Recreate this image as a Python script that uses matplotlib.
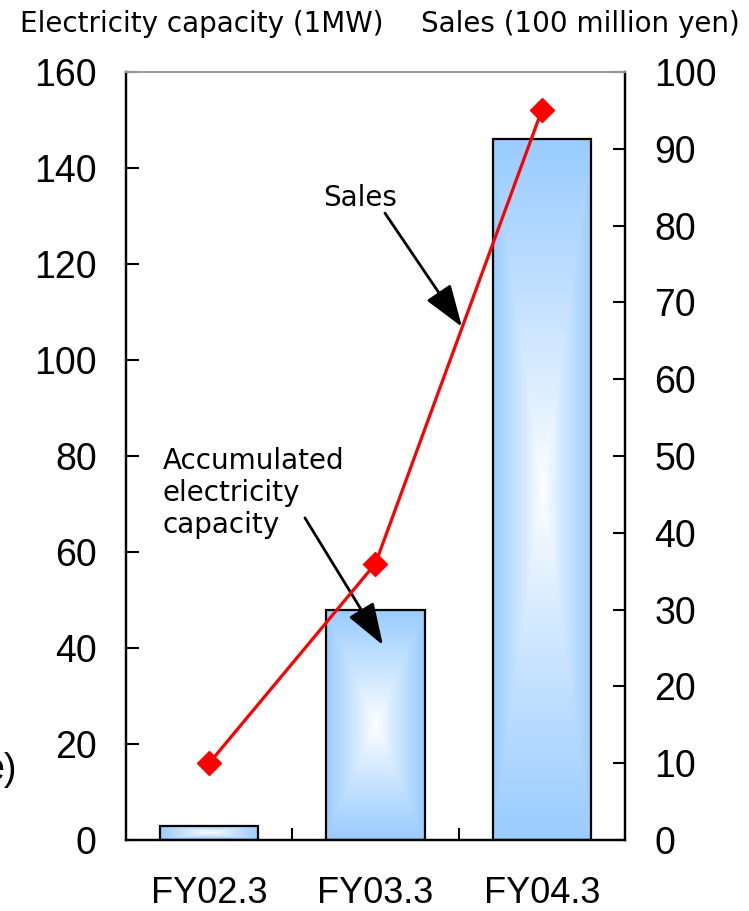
import numpy as np
import matplotlib.pyplot as plt
from matplotlib.patches import Rectangle

# capacity bars (left axis, MW) and sales line (right axis, 100 million yen)
years = ["FY02.3", "FY03.3", "FY04.3"]
capacity = [3, 48, 146]
sales = [10, 36, 95]

plt.rcParams['font.family'] = ['Liberation Sans', 'DejaVu Sans']
label_font = ['DejaVu Sans']

fig = plt.figure(figsize=(7.49, 9.11), dpi=100)
ax = fig.add_axes([0.1682, 0.0779, 0.6662, 0.8431])
ax2 = ax.twinx()

x = np.arange(len(years))
bar_w = 0.59
edge_blue = np.array([153, 204, 255]) / 255.0


def box_gradient(n=200):
    # white in the middle, fading out to light blue at all four edges
    u = np.linspace(-1, 1, n)
    uu, vv = np.meshgrid(u, u)
    t = np.maximum(np.abs(uu), np.abs(vv)) ** 0.9
    img = np.ones((n, n, 3)) * (1 - t[..., None]) + edge_blue * t[..., None]
    return img


grad = box_gradient()
for xi, h in zip(x, capacity):
    x0 = xi - bar_w / 2
    rect = Rectangle((x0, 0), bar_w, h, facecolor='none',
                     edgecolor='black', linewidth=1.6, zorder=3)
    ax.add_patch(rect)
    im = ax.imshow(grad, extent=(x0, x0 + bar_w, 0, h), aspect='auto',
                   interpolation='bilinear', zorder=2)
    im.set_clip_path(rect)

ax.set_xlim(-0.5, 2.5)
ax.set_ylim(0, 160)
ax2.set_ylim(0, 100)

ax2.plot(x, sales, color='#ff0000', lw=2.3, marker='D', ms=12,
         markeredgecolor='#ff0000', zorder=5)

# axes styling
ax.set_yticks(np.arange(0, 161, 20))
ax2.set_yticks(np.arange(0, 101, 10))
ax.set_xticks(x)
ax.set_xticklabels(years)
ax.set_xticks([0.5, 1.5], minor=True)
ax.tick_params(axis='x', which='major', length=0, pad=26, labelsize=26)
ax.tick_params(axis='x', which='minor', direction='in', length=9, width=1.5)
ax.tick_params(axis='y', direction='in', length=9, width=1.5, pad=21,
               labelsize=27)
ax2.tick_params(axis='y', direction='in', length=9, width=1.5, pad=21,
                labelsize=27)
for a in (ax, ax2):
    for s in ('left', 'right', 'bottom'):
        a.spines[s].set_linewidth(1.6)
    a.spines['top'].set_color('#999999')
    a.spines['top'].set_linewidth(1.4)

# axis titles above the plot
fig.text(20 / 749, 1 - 24 / 911, "Electricity capacity (1MW)", fontsize=20,
         family=label_font, ha='left', va='center')
fig.text(740 / 749, 1 - 24 / 911, "Sales (100 million yen)", fontsize=20,
         family=label_font, ha='right', va='center')
fig.text(17 / 749, 1 - 770 / 911, "e)", fontsize=27, ha='right', va='center')

arrow = dict(arrowstyle='-|>,head_length=1.3,head_width=0.45',
             color='black', lw=2, shrinkA=0, shrinkB=0, mutation_scale=20)
ax.annotate("Sales", xy=(1.52, 106.9), xytext=(0.907, 133.8),
            fontsize=20, family=label_font, ha='center', va='center',
            zorder=6)
ax.annotate("", xy=(1.52, 106.9), xytext=(1.057, 130.6),
            arrowprops=arrow, zorder=6)
ax.annotate("Accumulated\nelectricity\ncapacity", xy=(1.045, 40.6),
            xytext=(-0.278, 72.3), fontsize=20, family=label_font,
            ha='left', va='center', linespacing=1.2, zorder=6)
ax.annotate("", xy=(1.045, 40.6), xytext=(0.576, 67.1),
            arrowprops=arrow, zorder=6)

fig.savefig("out.png", dpi=100)
